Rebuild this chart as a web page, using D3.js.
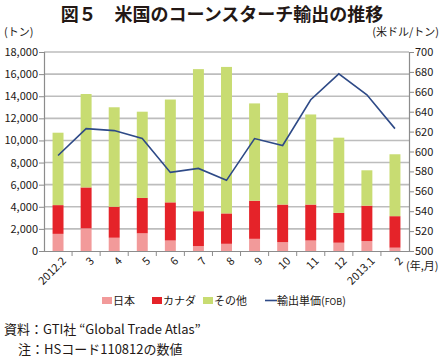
<!DOCTYPE html>
<html><head><meta charset="utf-8">
<script src="https://cdn.jsdelivr.net/npm/d3@7/dist/d3.min.js"></script>
<style>
body{margin:0;background:#fff;}
text{font-family:"Noto Sans CJK JP","Noto Sans",sans-serif;}
</style></head>
<body><svg id="c" width="443" height="360"></svg>
<script>
const categories=["2012.2","3","4","5","6","7","8","9","10","11","12","2013.1","2"];
const japan=[1550,2050,1200,1600,950,450,650,1100,800,950,750,900,300];
const canada=[2600,3700,2800,3200,3450,3150,2750,3450,3400,3250,2700,3200,2850];
const other=[6550,8450,9000,7800,9300,12850,13250,8800,10100,8150,6800,3200,5600];
const price=[596,623,621,613,579,583,571,613,606,652,678,657,623];
const leftTicks=d3.range(0,18001,2000);
const rightTicks=d3.range(500,701,20);
const seriesNames=["日本","カナダ","その他"];
const lineName="輸出単価(FOB)";
const colors=["#f29a9a","#e52329","#c8dc72"];
const lineColor="#2e4a87";

const svg=d3.select("#c");
const m={l:44,r:409,t:52,b:251};
const x=d3.scaleBand().domain(categories).range([m.l,m.r]).paddingInner(0.61).paddingOuter(0.305);
const xb=d3.scaleBand().domain(categories).range([m.l,m.r]);
const y=d3.scaleLinear().domain([0,18000]).range([m.b,m.t]);
const y2=d3.scaleLinear().domain([500,700]).range([m.b,m.t]);

svg.append("text").attr("x",222).attr("y",21).attr("text-anchor","middle")
 .attr("font-size",18).attr("font-weight","bold").attr("fill","#231815").text("図５　米国のコーンスターチ輸出の推移");

// gridlines
svg.append("g").selectAll("line").data(leftTicks.slice(1)).join("line")
 .attr("x1",m.l).attr("x2",m.r).attr("y1",d=>y(d)).attr("y2",d=>y(d))
 .attr("stroke","#bdbdbd").attr("stroke-width",1.6);

// bars
const stack=d3.stack().keys([0,1,2]).value((d,k)=>d[k]);
const rows=categories.map((c,i)=>[japan[i],canada[i],other[i]]);
const st=stack(rows);
st.forEach((s,k)=>{
 svg.append("g").selectAll("rect").data(s).join("rect")
  .attr("x",(d,i)=>x(categories[i])).attr("width",x.bandwidth())
  .attr("y",d=>y(d[1])).attr("height",d=>y(d[0])-y(d[1]))
  .attr("fill",colors[k]);
});

// line
svg.append("path").datum(price)
 .attr("d",d3.line().x((d,i)=>xb(categories[i])+xb.bandwidth()/2).y(d=>y2(d)))
 .attr("fill","none").attr("stroke",lineColor).attr("stroke-width",1.6);

// axes
const axL=svg.append("g").attr("transform",`translate(${m.l},0)`)
 .call(d3.axisLeft(y).tickValues(leftTicks).tickSize(5).tickFormat(d3.format(",")));
const axR=svg.append("g").attr("transform",`translate(${m.r},0)`)
 .call(d3.axisRight(y2).tickValues(rightTicks).tickSize(5));
const axB=svg.append("g").attr("transform",`translate(0,${m.b})`)
 .call(d3.axisBottom(xb).tickSize(0));
[axL,axR].forEach(a=>{
 a.select(".domain").attr("stroke","#8c8c8c").attr("stroke-width",1.2);
 a.selectAll(".tick line").attr("stroke","#8c8c8c");
 a.selectAll("text").attr("font-size",11).attr("fill","#231815");
});
axL.selectAll(".tick text").attr("x",-6);
axR.selectAll(".tick text").attr("x",6);
axB.select(".domain").attr("stroke","#8c8c8c").attr("stroke-width",1.2);
// x tick marks at band boundaries
svg.append("g").selectAll("line").data(categories.slice(1)).join("line")
 .attr("x1",d=>xb(d)).attr("x2",d=>xb(d)).attr("y1",m.b).attr("y2",m.b+5).attr("stroke","#8c8c8c");
axB.selectAll(".tick text").attr("font-size",11).attr("fill","#231815")
 .attr("text-anchor","end").attr("transform","translate(6,8) rotate(-45)").attr("dy","0.35em").attr("y",0);

svg.append("text").attr("x",406).attr("y",270).attr("font-size",11).attr("fill","#231815").text("(年,月)");
svg.append("text").attr("x",4).attr("y",36).attr("font-size",11).attr("fill","#231815").text("(トン)");
svg.append("text").attr("x",439).attr("y",36).attr("text-anchor","end").attr("font-size",11).attr("fill","#231815").text("(米ドル/トン)");

// legend
const lg=svg.append("g");
const lx=[102,152,203];
seriesNames.forEach((n,k)=>{
 lg.append("rect").attr("x",lx[k]).attr("y",297).attr("width",10).attr("height",7).attr("fill",colors[k]);
 lg.append("text").attr("x",lx[k]+11).attr("y",305).attr("font-size",11).attr("fill","#231815").text(n);
});
lg.append("line").attr("x1",265).attr("x2",277).attr("y1",300.5).attr("y2",300.5).attr("stroke",lineColor).attr("stroke-width",1.6);
lg.append("text").attr("x",277).attr("y",305).attr("font-size",11).attr("fill","#231815").text("輸出単価(").append("tspan").attr("font-size",9).text("FOB").select(function(){return this.parentNode;}).append("tspan").text(")");

svg.append("text").attr("x",4).attr("y",334).attr("font-size",13).attr("fill","#231815").text("資料：GTI社 “Global Trade Atlas”");
svg.append("text").attr("x",18).attr("y",354).attr("font-size",13).attr("fill","#231815").text("注：HSコード110812の数値");
</script></body></html>
